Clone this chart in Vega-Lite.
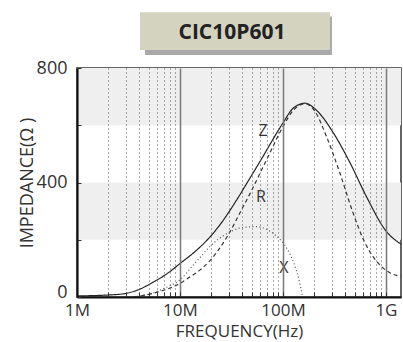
{
  "$schema": "https://vega.github.io/schema/vega-lite/v6.json",
  "autosize": "none",
  "width": 324,
  "height": 229,
  "padding": {"left": 77, "top": 68, "right": 2, "bottom": 45},
  "background": "white",
  "config": {"font": "Open Sans", "view": {"stroke": "#333", "strokeWidth": 1.5}},
  "datasets": {
    "curves": [
      {"s": "Z", "f": 1000000, "v": 4},
      {"s": "Z", "f": 1500000, "v": 5},
      {"s": "Z", "f": 2000000, "v": 7},
      {"s": "Z", "f": 2800000, "v": 11},
      {"s": "Z", "f": 3800000, "v": 23},
      {"s": "Z", "f": 5500000, "v": 52},
      {"s": "Z", "f": 8000000, "v": 89},
      {"s": "Z", "f": 10000000, "v": 117},
      {"s": "Z", "f": 13400000, "v": 153},
      {"s": "Z", "f": 18000000, "v": 196},
      {"s": "Z", "f": 24400000, "v": 252},
      {"s": "Z", "f": 35500000, "v": 339},
      {"s": "Z", "f": 44500000, "v": 397},
      {"s": "Z", "f": 64000000, "v": 491},
      {"s": "Z", "f": 87000000, "v": 573},
      {"s": "Z", "f": 100000000, "v": 608},
      {"s": "Z", "f": 126000000, "v": 660},
      {"s": "Z", "f": 164000000, "v": 677},
      {"s": "Z", "f": 212000000, "v": 652},
      {"s": "Z", "f": 309000000, "v": 573},
      {"s": "Z", "f": 449000000, "v": 468},
      {"s": "Z", "f": 650000000, "v": 349},
      {"s": "Z", "f": 1020000000, "v": 227},
      {"s": "Z", "f": 1400000000, "v": 185},
      {"s": "R", "f": 3600000, "v": 0},
      {"s": "R", "f": 5500000, "v": 13},
      {"s": "R", "f": 10000000, "v": 48},
      {"s": "R", "f": 12000000, "v": 66},
      {"s": "R", "f": 15600000, "v": 94},
      {"s": "R", "f": 19000000, "v": 122},
      {"s": "R", "f": 28400000, "v": 208},
      {"s": "R", "f": 41000000, "v": 315},
      {"s": "R", "f": 48000000, "v": 362},
      {"s": "R", "f": 69000000, "v": 478},
      {"s": "R", "f": 100000000, "v": 595},
      {"s": "R", "f": 126000000, "v": 652},
      {"s": "R", "f": 164000000, "v": 675},
      {"s": "R", "f": 205000000, "v": 648},
      {"s": "R", "f": 265000000, "v": 560},
      {"s": "R", "f": 357000000, "v": 433},
      {"s": "R", "f": 480000000, "v": 293},
      {"s": "R", "f": 620000000, "v": 192},
      {"s": "R", "f": 750000000, "v": 141},
      {"s": "R", "f": 940000000, "v": 101},
      {"s": "R", "f": 1100000000, "v": 84},
      {"s": "R", "f": 1400000000, "v": 72},
      {"s": "X", "f": 3500000, "v": 0},
      {"s": "X", "f": 5000000, "v": 10},
      {"s": "X", "f": 7000000, "v": 30},
      {"s": "X", "f": 10000000, "v": 60},
      {"s": "X", "f": 13500000, "v": 112},
      {"s": "X", "f": 16000000, "v": 142},
      {"s": "X", "f": 20000000, "v": 180},
      {"s": "X", "f": 28000000, "v": 220},
      {"s": "X", "f": 40000000, "v": 242},
      {"s": "X", "f": 55000000, "v": 246},
      {"s": "X", "f": 70000000, "v": 236},
      {"s": "X", "f": 85000000, "v": 215},
      {"s": "X", "f": 100000000, "v": 190},
      {"s": "X", "f": 115000000, "v": 155},
      {"s": "X", "f": 130000000, "v": 110},
      {"s": "X", "f": 143000000, "v": 60},
      {"s": "X", "f": 155000000, "v": 0}
    ],
    "notes": [
      {"t": "Z", "f": 64000000, "v": 580},
      {"t": "R", "f": 61000000, "v": 349},
      {"t": "X", "f": 102000000, "v": 103}
    ]
  },
  "layer": [
    {
      "data": {"values": [{}]},
      "mark": {"type": "rect", "color": "#efefef"},
      "encoding": {"y": {"datum": 200}, "y2": {"datum": 400}}
    },
    {
      "data": {"values": [{}]},
      "mark": {"type": "rect", "color": "#efefef"},
      "encoding": {"y": {"datum": 600}, "y2": {"datum": 800}}
    },
    {
      "data": {"values": [{}]},
      "mark": {"type": "rect", "color": "#a9a9a9", "clip": false},
      "encoding": {"x": {"datum": 4570000}, "x2": {"datum": 299000000}, "y": {"datum": 845}, "y2": {"datum": 980}}
    },
    {
      "data": {"values": [{}]},
      "mark": {"type": "rect", "color": "#d3d3bf", "clip": false},
      "encoding": {"x": {"datum": 4090000}, "x2": {"datum": 286000000}, "y": {"datum": 863}, "y2": {"datum": 995}}
    },
    {
      "data": {"values": [{}]},
      "mark": {"type": "text", "clip": false, "fontSize": 21, "fontWeight": "bold", "color": "#222", "font": "Open Sans"},
      "encoding": {"x": {"datum": 32000000}, "y": {"datum": 924}, "text": {"value": "CIC10P601"}}
    },
    {
      "data": {"name": "curves"},
      "mark": {"type": "line", "clip": true, "strokeWidth": 1.2, "interpolate": "monotone"},
      "encoding": {
        "x": {
          "field": "f", "type": "quantitative",
          "scale": {"type": "log", "domain": [1000000, 1400000000], "nice": false},
          "axis": {
            "title": "FREQUENCY(Hz)",
            "zindex": 1,
            "values": [1000000, 2000000, 3000000, 4000000, 5000000, 6000000, 7000000, 8000000, 9000000,
                       10000000, 20000000, 30000000, 40000000, 50000000, 60000000, 70000000, 80000000, 90000000,
                       100000000, 200000000, 300000000, 400000000, 500000000, 600000000, 700000000, 800000000, 900000000,
                       1000000000],
            "labelExpr": "datum.value == 1e6 ? '1M' : datum.value == 1e7 ? '10M' : datum.value == 1e8 ? '100M' : datum.value == 1e9 ? '1G' : ''",
            "grid": true,
            "gridColor": {"condition": {"test": "datum.value == 1e6 || datum.value == 1e7 || datum.value == 1e8 || datum.value == 1e9", "value": "#777"}, "value": "#555"},
            "gridDash": {"condition": {"test": "datum.value == 1e6 || datum.value == 1e7 || datum.value == 1e8 || datum.value == 1e9", "value": []}, "value": [1, 3]},
            "gridWidth": {"condition": {"test": "datum.value == 1e6 || datum.value == 1e7 || datum.value == 1e8 || datum.value == 1e9", "value": 1.5}, "value": 1},
            "tickSize": -5,
            "tickColor": "#333",
            "domainColor": "#111",
            "domainWidth": 2,
            "labelFontSize": 17,
            "labelColor": "#333",
            "labelPadding": 10,
            "labelFlush": false,
            "labelOverlap": false,
            "titleFontSize": 17,
            "titleFontWeight": "normal",
            "titleColor": "#333",
            "titlePadding": 5
          }
        },
        "y": {
          "field": "v", "type": "quantitative",
          "scale": {"domain": [0, 800], "nice": false},
          "axis": {
            "title": "IMPEDANCE(Ω )",
            "zindex": 1,
            "values": [0, 200, 400, 600, 800],
            "labelExpr": "datum.value % 400 == 0 ? datum.label : ''",
            "labelBaseline": {"condition": {"test": "datum.value == 0", "value": "alphabetic"}, "value": "middle"},
            "grid": false,
            "tickSize": -4,
            "tickColor": "#333",
            "domainColor": "#111",
            "domainWidth": 2,
            "labelFontSize": 18,
            "labelColor": "#333",
            "labelPadding": 14,
            "labelFlush": false,
            "labelOverlap": false,
            "titleFontSize": 18,
            "titleFontWeight": "normal",
            "titleColor": "#333",
            "titlePadding": 0
          }
        },
        "color": {"field": "s", "type": "nominal", "scale": {"domain": ["Z", "R", "X"], "range": ["#222", "#333", "#555"]}, "legend": null},
        "strokeDash": {"field": "s", "type": "nominal", "scale": {"domain": ["Z", "R", "X"], "range": [[1, 0], [4, 3], [1, 2.5]]}, "legend": null}
      }
    },
    {
      "data": {"name": "notes"},
      "mark": {"type": "text", "fontSize": 16, "color": "#333", "font": "Open Sans"},
      "encoding": {
        "x": {"field": "f", "type": "quantitative"},
        "y": {"field": "v", "type": "quantitative"},
        "text": {"field": "t"}
      }
    }
  ]
}
